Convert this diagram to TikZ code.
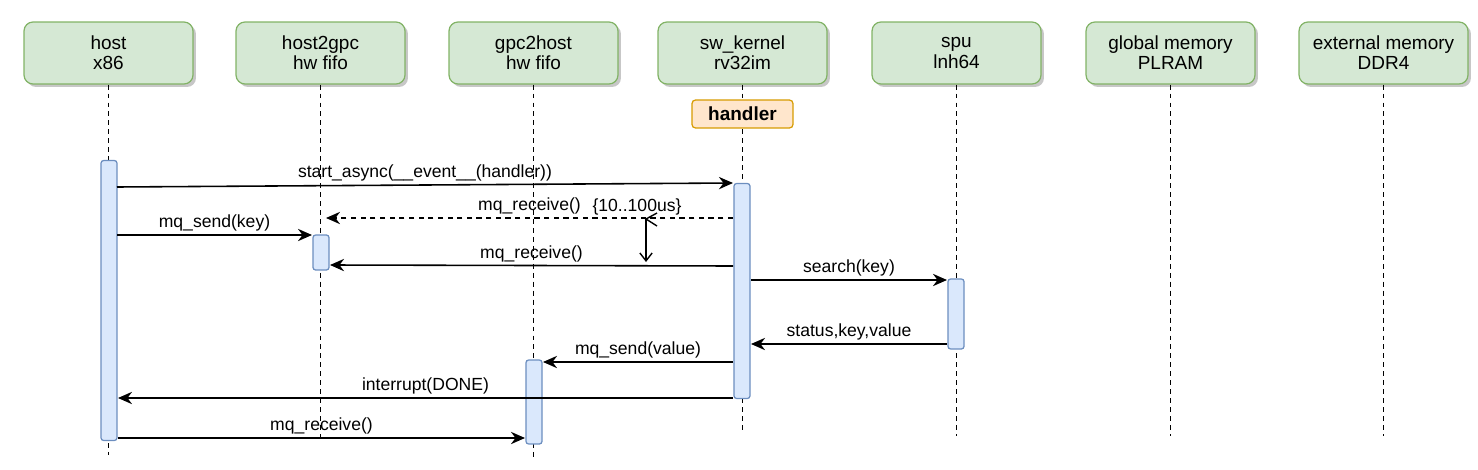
\documentclass[tikz,border=0pt]{standalone}
\usepackage{fontspec}
\setmainfont{Liberation Sans}
\usetikzlibrary{arrows.meta,shadows}
\definecolor{boxgreen}{HTML}{D5E8D4}
\definecolor{linegreen}{HTML}{82B366}
\definecolor{boxblue}{HTML}{DAE8FC}
\definecolor{lineblue}{HTML}{6C8EBF}
\definecolor{boxorange}{HTML}{FFE6CC}
\definecolor{lineorange}{HTML}{D79B00}
\tikzset{
  head/.style={draw=linegreen, fill=boxgreen, rounded corners=0.18cm, line width=0.7pt,
    minimum width=3.38cm, minimum height=1.24cm, align=center,
    font=\fontsize{10.8}{11.5}\selectfont,
    drop shadow={shadow xshift=0.06cm, shadow yshift=-0.06cm, fill=black!22, opacity=1}},
  life/.style={line width=0.8pt, dash pattern=on 2.8pt off 2.3pt},
  bar/.style={draw=lineblue, fill=boxblue, rounded corners=1.5pt, line width=0.7pt,
    minimum width=0.32cm, inner sep=0pt},
  msg/.style={line width=0.9pt, -{Stealth[length=8pt,width=7pt]}},
  lbl/.style={font=\fontsize{10}{12}\selectfont, inner sep=1.5pt},
}
\begin{document}
\begin{tikzpicture}[x=0.02cm, y=-0.02cm]
\useasboundingbox (0,0) rectangle (1478,470);

% participants
\node[head] (host) at (108.5,53) {host\\x86};
\node[head] (hgpc) at (320.5,53) {host2gpc\\hw fifo};
\node[head] (ghost) at (533.5,53) {gpc2host\\hw fifo};
\node[head] (kern) at (742.5,53) {sw\_kernel\\rv32im};
\node[head] (spu) at (956.5,53) {spu\\lnh64};
\node[head] (glob) at (1170.5,53) {global memory\\PLRAM};
\node[head] (ext) at (1383.5,53) {external memory\\DDR4};

% lifelines
\coordinate (hostend) at (108.5,455);
\coordinate (hgpcend) at (320.5,439);
\coordinate (ghostend) at (533.5,458);
\coordinate (kernend) at (742.5,433);
\coordinate (spuend) at (956.5,436);
\coordinate (globend) at (1170.5,436);
\coordinate (extend) at (1383.5,436);
\draw[life] (host) -- (hostend);
\draw[life] (hgpc) -- (hgpcend);
\draw[life] (ghost) -- (ghostend);
\draw[life] (kern) -- (kernend);
\draw[life] (spu) -- (spuend);
\draw[life] (glob) -- (globend);
\draw[life] (ext) -- (extend);

\node[draw=lineorange, fill=boxorange, rounded corners=2pt, line width=0.7pt,
  minimum width=2.02cm, minimum height=0.56cm, inner sep=0pt,
  font=\fontsize{10.8}{12}\selectfont\bfseries] (handler) at (742.5,114) {handler};

% activations
\node[bar, minimum height=5.6cm] (hostbar) at (109,300.5) {};
\node[bar, minimum height=0.7cm] (hgpcbar) at (321,252.5) {};
\node[bar, minimum height=1.68cm] (ghostbar) at (534,402) {};
\node[bar, minimum height=4.3cm] (kernbar) at (742,291) {};
\node[bar, minimum height=1.4cm] (spubar) at (956,314) {};

% messages
\coordinate (async1) at (117,187);
\coordinate (async2) at (733,183);
\draw[msg] (async1) -- node[lbl, above] {start\_async(\_\_event\_\_(handler))} (async2);

\coordinate (poll1) at (733,218);
\coordinate (poll2) at (326,218);
\draw[msg, dash pattern=on 3pt off 2.5pt] (poll1) -- node[lbl, above] {mq\_receive()} (poll2);
\node[lbl, above] (delay) at (637,218) {\{10..100us\}};

\coordinate (key1) at (117,235);
\coordinate (key2) at (312,235);
\draw[msg] (key1) -- node[lbl, above] {mq\_send(key)} (key2);

\coordinate (recv1) at (733,266);
\coordinate (recv2) at (330,265);
\draw[msg] (recv1) -- node[lbl, above] {mq\_receive()} (recv2);

% waiting time
\coordinate (durtop) at (646,219);
\coordinate (durbot) at (646,262);
\coordinate (durup) at (657,213);
\coordinate (durlow) at (657,226);
\draw[line width=0.8pt, -{Straight Barb[length=4.5pt,width=7pt]}] (durtop) -- (durbot);
\draw[line width=0.8pt] (durup) -- (durtop) -- (durlow);

\coordinate (find1) at (751,280);
\coordinate (find2) at (947,280);
\draw[msg] (find1) -- node[lbl, above] {search(key)} (find2);

\coordinate (res1) at (947,344);
\coordinate (res2) at (751,344);
\draw[msg] (res1) -- node[lbl, above] {status,key,value} (res2);

\coordinate (val1) at (733,362);
\coordinate (val2) at (543,362);
\draw[msg] (val1) -- node[lbl, above] {mq\_send(value)} (val2);

\coordinate (done1) at (733,398);
\coordinate (done2) at (118,398);
\draw[msg] (done1) -- node[lbl, above] {interrupt(DONE)} (done2);

\coordinate (last1) at (118,438);
\coordinate (last2) at (525,438);
\draw[msg] (last1) -- node[lbl, above] {mq\_receive()} (last2);

\end{tikzpicture}
\end{document}
